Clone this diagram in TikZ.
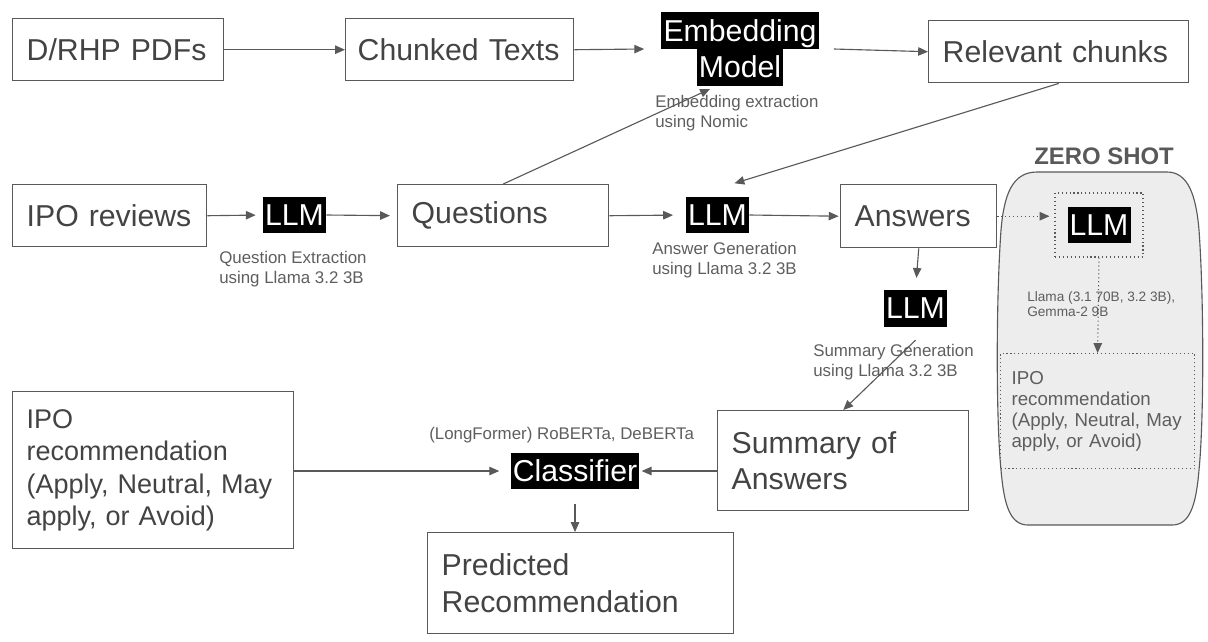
\documentclass[tikz,border=0pt]{standalone}
\usepackage{fontspec}
\setmainfont{Liberation Sans}
\usetikzlibrary{arrows.meta,calc}

\definecolor{boxgray}{HTML}{595959}
\definecolor{txtgray}{HTML}{434343}
\definecolor{labgray}{HTML}{5E5E5E}
\definecolor{panelgray}{HTML}{EDEDED}

\newcommand{\boxfont}{\fontsize{21.5}{26}\selectfont}
\newcommand{\recfont}{\fontsize{19.2}{23.1}\selectfont}
\newcommand{\modelfont}{\fontsize{21.5}{26}\selectfont\lineskiplimit=-10pt}
\newcommand{\labfont}{\fontsize{12}{13.9}\selectfont}
\newcommand{\llamafont}{\fontsize{9.7}{10.7}\selectfont}
\newcommand{\zrecfont}{\fontsize{13.3}{15}\selectfont}
\newcommand{\zerofont}{\fontsize{17}{20}\selectfont\bfseries}
\newcommand{\blackband}[1]{{\setlength{\fboxsep}{0pt}\colorbox{black}{\rule[-0.27em]{0pt}{1.22em}\kern1.5pt#1\kern1.5pt}}}

\tikzset{%
  % Specifications for style of arrows:
   flow/.style={
           -{Triangle[length=7pt,width=6pt]},
           draw=boxgray,
           line width=0.8pt},
   zeroflow/.style={
           flow,
           dotted},
  % Specifications for style of nodes:
   base/.style = {rectangle, draw=boxgray, line width=1pt,
                  anchor=north west, inner xsep=0.35cm, inner ysep=0pt,
                  align=left, text=txtgray, font=\boxfont},
   model/.style = {inner sep=0pt, text=white, align=center,
                  font=\modelfont},
   caption/.style = {inner sep=0pt, anchor=north west, align=left,
                  text=labgray, font=\labfont},
   zerobox/.style = {rectangle, draw=boxgray, line width=0.8pt, dotted},
}

\begin{document}
\begin{tikzpicture}[x=0.025cm, y=-0.025cm]
  \useasboundingbox (0,0) rectangle (1208,641);

  % Zero shot panel
  \draw[draw=boxgray, fill=panelgray, line width=0.8pt]
    (1037,172) -- (1167,172)
    .. controls (1188,172) and (1196,195) .. (1199,230)
    .. controls (1204,300) and (1204,420) .. (1199,470)
    .. controls (1196,505) and (1190,525) .. (1172,525)
    -- (1028,525)
    .. controls (1010,525) and (1004,505) .. (1001,470)
    .. controls (996,420) and (996,300) .. (1001,230)
    .. controls (1004,195) and (1012,172) .. (1037,172) -- cycle;
  \node (zero_title) [text=boxgray, font=\zerofont, inner sep=0pt] at (1104,156) {ZERO SHOT};

  % Specification of nodes (position, etc.)
  \node (pdf_block)      [base, text width=4.575cm, minimum height=1.55cm] at (12,18) {D/RHP PDFs};
  \node (chunk_block)    [base, text width=5.1cm, inner xsep=0.3cm, minimum height=1.55cm] at (345,18) {Chunked Texts};
  \node (relevant_block) [base, text width=5.8cm, minimum height=1.55cm] at (928,20) {Relevant chunks};
  \node (review_block)   [base, text width=4.15cm, minimum height=1.55cm] at (12,184) {IPO reviews};
  \node (question_block) [base, text width=4.575cm, minimum height=1.55cm] at (397,184) {Questions};
  \node (answer_block)   [base, text width=3.2cm, minimum height=1.575cm] at (840,184) {Answers};
  \node (rec_block)      [base, text width=6.325cm, minimum height=3.925cm, font=\recfont] at (12,391)
        {IPO\\recommendation\\(Apply, Neutral, May\\apply, or Avoid)};
  \node (summary_block)  [base, text width=5.575cm, minimum height=2.5cm] at (717,410) {Summary of\\Answers};
  \node (predict_block)  [base, text width=6.95cm, minimum height=2.525cm] at (427,532) {Predicted\\Recommendation};

  \node (embed_model) [model] at (740,49) {\blackband{Embedding}\\\blackband{Model}};
  \node (llm_q)       [model] at (294.5,215) {\blackband{LLM}};
  \node (llm_a)       [model] at (717.5,215) {\blackband{LLM}};
  \node (llm_s)       [model] at (915.5,308.5) {\blackband{LLM}};
  \node (classifier)  [model] at (575,471) {\blackband{Classifier}};

  \node (zero_box)    [zerobox, minimum width=2.2cm, minimum height=1.6cm] at (1099,225) {};
  \node (llm_z)       [model] at (1099,225) {\blackband{LLM}};
  \node (zero_rec)    [zerobox, anchor=north west, text width=4.3cm, inner xsep=0.275cm, inner ysep=0pt,
                       minimum height=2.875cm, align=left, text=labgray, font=\zrecfont] at (1000,353)
        {IPO\\recommendation\\(Apply, Neutral, May\\apply, or Avoid)};

  % Captions
  \node (embed_cap)  [caption] at (655,95)  {Embedding extraction\\using Nomic};
  \node (q_cap)      [caption] at (219,251) {Question Extraction\\using Llama 3.2 3B};
  \node (a_cap)      [caption] at (652,242) {Answer Generation\\using Llama 3.2 3B};
  \node (s_cap)      [caption] at (813,344) {Summary Generation\\using Llama 3.2 3B};
  \node (z_cap)      [caption, font=\llamafont] at (1027,291) {Llama (3.1 70B, 3.2 3B),\\Gemma-2 9B};
  \node (clf_cap)    [caption, anchor=base west] at (429,439) {(LongFormer) RoBERTa, DeBERTa};

  % Specification of arrows
  \draw[flow] (pdf_block.east) -- (chunk_block.west);
  \draw[flow] (chunk_block.east) -- ($(embed_model.west)+(-17,0)$);
  \draw[flow] ($(embed_model.east)+(15,0)$) -- (relevant_block.west);
  \draw[flow] (question_block.north) -- ($(embed_model.south)+(-30,3)$);
  \draw[flow] (relevant_block.south) -- ($(llm_a.north)+(17,-13)$);
  \draw[flow, shorten >=5pt] (review_block.east) -- (llm_q.west);
  \draw[flow, shorten >=5pt] (llm_q.east) -- (question_block.west);
  \draw[flow, shorten >=9pt] (question_block.east) -- (llm_a.west);
  \draw[flow, shorten >=1pt] (llm_a.east) -- (answer_block.west);
  \draw[flow, shorten >=8.5pt] (answer_block.south) -- (llm_s.north);
  \draw[flow] ($(llm_s.south)+(0,13)$) -- (summary_block.north);
  \draw[zeroflow, shorten >=3.5pt] (answer_block.east) -- (answer_block.east -| zero_box.west);
  \draw[zeroflow] (zero_box.south) -- (zero_rec.north);
  \draw[flow, shorten >=8pt] (rec_block.east |- classifier.west) -- (classifier.west);
  \draw[flow, shorten >=1.5pt] (summary_block.west |- classifier.east) -- (classifier.east);
  \draw[flow] ($(classifier.south)+(0,14)$) -- (classifier.south |- predict_block.north);
\end{tikzpicture}
\end{document}
